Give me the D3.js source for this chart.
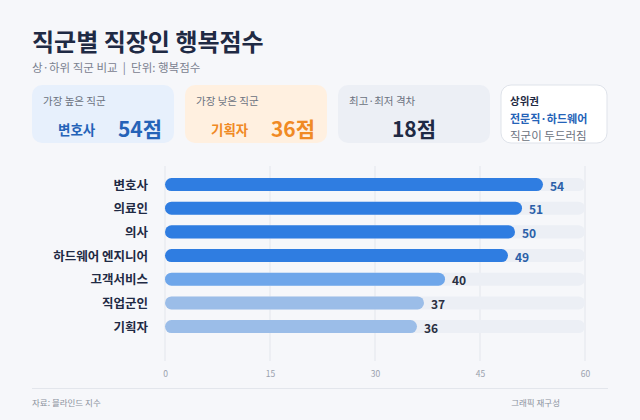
<!DOCTYPE html>
<html>
<head>
<meta charset="utf-8">
<script src="https://cdn.jsdelivr.net/npm/d3@7"></script>
<style>
  html, body { margin: 0; padding: 0; background: #f6f7fa; }
  svg { display: block; font-family: "Noto Sans CJK KR", "Noto Sans", sans-serif; }
</style>
</head>
<body>
<script>
var categories = ['변호사', '의료인', '의사', '하드웨어 엔지니어', '고객서비스', '직업군인', '기획자'];
var scores = [54, 51, 50, 49, 40, 37, 36];
var tickValues = [0, 15, 30, 45, 60];

var title = '직군별 직장인 행복점수';
var subtitle = '상·하위 직군 비교  |  단위: 행복점수';
var source = '자료: 블라인드 지수';
var credit = '그래픽 재구성';
var noteLines = ['상위권', '전문직·하드웨어', '직군이 두드러짐'];

var w = 640, h = 420;
var rows = categories.map(function (c, i) { return { name: c, value: scores[i] }; });

var svg = d3.select('body').append('svg')
    .attr('width', w)
    .attr('height', h)
    .attr('viewBox', `0 0 ${w} ${h}`);

svg.append('rect').attr('width', w).attr('height', h).attr('fill', '#f6f7fa');

// header
svg.append('text')
    .attr('x', 32).attr('y', 51)
    .attr('font-size', 24).attr('font-weight', 700)
    .attr('fill', '#1f2a44')
    .text(title);

svg.append('text')
    .attr('x', 32).attr('y', 72)
    .attr('font-size', 11.5)
    .attr('fill', '#7a8190')
    .style('white-space', 'pre')
    .text(subtitle);

// summary cards
var best = rows.reduce(function (a, b) { return b.value > a.value ? b : a; });
var worst = rows.reduce(function (a, b) { return b.value < a.value ? b : a; });

function card(x, width, fill, stroke) {
    var g = svg.append('g').attr('transform', 'translate(' + x + ',85)');
    g.append('rect')
        .attr('width', width).attr('height', 58)
        .attr('rx', 10)
        .attr('fill', fill)
        .attr('stroke', stroke || 'none');
    return g;
}

function label(g, txt) {
    g.append('text').attr('x', 11).attr('y', 20)
        .attr('font-size', 10.5).attr('fill', '#6b7280')
        .text(txt);
}

var c1 = card(32, 142, '#e7f0fc');
label(c1, '가장 높은 직군');
c1.append('text').attr('x', 26).attr('y', 50)
    .attr('font-size', 13.5).attr('font-weight', 700).attr('fill', '#2563b8')
    .text(best.name);
c1.append('text').attr('x', 130).attr('y', 52).attr('text-anchor', 'end')
    .attr('font-size', 21).attr('font-weight', 700).attr('fill', '#2563b8')
    .text(best.value + '점');

var c2 = card(185, 142, '#fff0e0');
label(c2, '가장 낮은 직군');
c2.append('text').attr('x', 26).attr('y', 50)
    .attr('font-size', 13.5).attr('font-weight', 700).attr('fill', '#f08a24')
    .text(worst.name);
c2.append('text').attr('x', 130).attr('y', 52).attr('text-anchor', 'end')
    .attr('font-size', 21).attr('font-weight', 700).attr('fill', '#f08a24')
    .text(worst.value + '점');

var c3 = card(338, 152, '#eceff5');
label(c3, '최고·최저 격차');
c3.append('text').attr('x', 76).attr('y', 52).attr('text-anchor', 'middle')
    .attr('font-size', 21).attr('font-weight', 700).attr('fill', '#1f2a44')
    .text((best.value - worst.value) + '점');

var c4 = card(501, 106, '#ffffff', '#dfe3ea');
c4.append('text').attr('x', 9).attr('y', 20)
    .attr('font-size', 10.5).attr('font-weight', 700).attr('fill', '#1f2a44')
    .text(noteLines[0]);
c4.append('text').attr('x', 9).attr('y', 38)
    .attr('font-size', 11).attr('font-weight', 700).attr('fill', '#2563b8')
    .text(noteLines[1]);
c4.append('text').attr('x', 9).attr('y', 55)
    .attr('font-size', 11.5).attr('fill', '#6b7280')
    .text(noteLines[2]);

// bar chart
var x = d3.scaleLinear().domain([0, 60]).range([165, 585]);
var y = d3.scaleBand()
    .domain(categories)
    .range([172.7, 338.4])
    .paddingInner(0.45)
    .paddingOuter(0.225);

var color = d3.scaleThreshold()
    .domain([38, 45])
    .range(['#9bbde8', '#6ea6ea', '#2f7de1']);

var grid = svg.append('g');
grid.selectAll('line')
    .data(tickValues)
    .enter().append('line')
    .attr('x1', function (d) { return x(d); })
    .attr('x2', function (d) { return x(d); })
    .attr('y1', 166).attr('y2', 361)
    .attr('stroke', '#e3e6ec').attr('stroke-width', 1);

var axis = d3.axisBottom(x).tickValues(tickValues).tickSize(0).tickPadding(0);
var axisG = svg.append('g')
    .attr('transform', 'translate(0,371)')
    .call(axis);
axisG.select('.domain').remove();
axisG.selectAll('text')
    .attr('font-size', 8.5)
    .attr('font-family', '"Noto Sans CJK KR", sans-serif')
    .attr('fill', '#9aa1ad');

var bars = svg.selectAll('.bar')
    .data(rows)
    .enter().append('g')
    .attr('class', 'bar');

bars.append('rect')
    .attr('x', x(0))
    .attr('y', function (d) { return y(d.name); })
    .attr('width', x(60) - x(0))
    .attr('height', y.bandwidth())
    .attr('rx', y.bandwidth() / 2)
    .attr('fill', '#eceff5');

bars.append('rect')
    .attr('x', x(0))
    .attr('y', function (d) { return y(d.name); })
    .attr('width', function (d) { return x(d.value) - x(0); })
    .attr('height', y.bandwidth())
    .attr('rx', y.bandwidth() / 2)
    .attr('fill', function (d) { return color(d.value); });

bars.append('text')
    .attr('x', function (d) { return x(d.value) + 7; })
    .attr('y', function (d) { return y(d.name) + y.bandwidth() / 2 + 6; })
    .attr('font-size', 12).attr('font-weight', 700)
    .attr('fill', function (d) { return d.value >= 45 ? '#2b5fa8' : '#2a3042'; })
    .text(function (d) { return d.value; });

bars.append('text')
    .attr('x', 148)
    .attr('y', function (d) { return y(d.name) + y.bandwidth() / 2 + 5; })
    .attr('text-anchor', 'end')
    .attr('font-size', 12.5).attr('font-weight', 700)
    .attr('fill', '#1f2a44')
    .text(function (d) { return d.name; });

// footer
svg.append('line')
    .attr('x1', 32).attr('x2', 608)
    .attr('y1', 388.5).attr('y2', 388.5)
    .attr('stroke', '#e3e6ec');

svg.append('text')
    .attr('x', 32).attr('y', 406)
    .attr('font-size', 8.5).attr('fill', '#8a919c')
    .text(source);

svg.append('text')
    .attr('x', 560).attr('y', 406)
    .attr('text-anchor', 'end')
    .attr('font-size', 8.5).attr('fill', '#8a919c')
    .text(credit);
</script>
</body>
</html>
